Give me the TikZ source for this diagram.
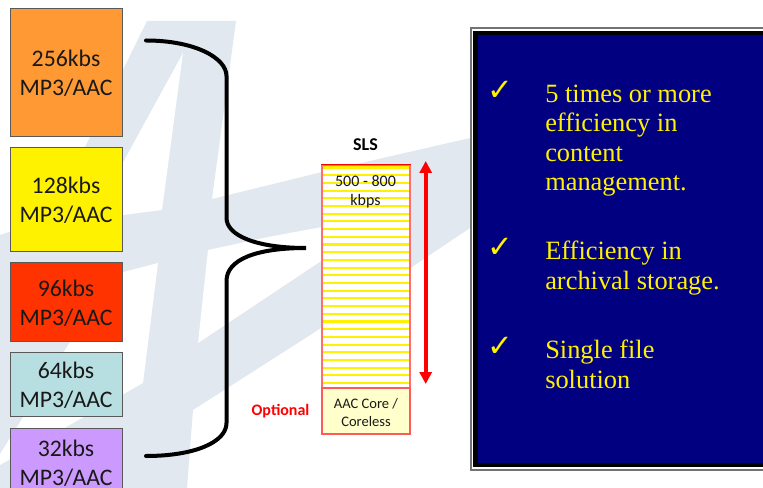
\documentclass[tikz,border=0pt]{standalone}
\usepackage{fontspec}
\setmainfont{Carlito}
\newfontfamily\panelfont{Liberation Serif}
\newfontfamily\tickfont{DejaVu Sans}
\usetikzlibrary{arrows.meta}
\definecolor{wmark}{HTML}{E2E8EF}
\definecolor{panelnavy}{HTML}{000080}
\newcommand{\ratestrut}{\rule{0pt}{14.5pt}}
\tikzset{
  ratebox/.style={draw=black!65,line width=0.6pt,minimum width=84pt,inner sep=0pt,align=center,
    font=\fontsize{17.8}{21.75}\selectfont,text=black!90},
  panelitem/.style={anchor=north west,inner sep=0pt,align=left,text=yellow,
    font=\panelfont\fontsize{19.8}{21.9}\selectfont},
  tick/.style={anchor=center,inner sep=0pt,text=yellow,font=\tickfont\fontsize{23}{23}\selectfont},
  smalllabel/.style={inner sep=0pt,align=center,text=black!90}
}
\begin{document}
\begin{tikzpicture}[x=0.75pt,y=-0.75pt]
\useasboundingbox (0,0) rectangle (763,488);
% watermark
\fill[wmark] (147,21) -- (236,21) -- (212,199) -- (322,172) -- (470,138) -- (470,228)
  -- (318,330) -- (193,410) -- (187,488) -- (0,488) -- (0,235) -- (50,218) -- cycle;
\fill[white] (183,53) -- (162,210) -- (92,219) -- cycle;
\fill[white] (112,275) -- (158,263) -- (143,383) -- (0,465) -- (0,454) -- cycle;
\fill[white] (208,250) -- (268,237) -- (322,227) -- (405,205) -- (198,343) -- cycle;
% rate boxes
\node[ratebox,fill={rgb,255:red,255;green,153;blue,51},minimum height=96pt] (r256) at (66,72) {\ratestrut 256kbs\\MP3/AAC};
\node[ratebox,fill=yellow,minimum height=78pt] (r128) at (66,199) {\ratestrut 128kbs\\MP3/AAC};
\node[ratebox,fill={rgb,255:red,255;green,51;blue,0},minimum height=59.25pt] (r96) at (66,301.5) {\ratestrut 96kbs\\MP3/AAC};
\node[ratebox,fill={rgb,255:red,183;green,222;blue,225},minimum height=48pt] (r64) at (66,384) {\ratestrut 64kbs\\MP3/AAC};
\node[ratebox,fill={rgb,255:red,204;green,153;blue,255},minimum height=51pt] (r32) at (66,462) {\ratestrut 32kbs\\MP3/AAC};
% brace
\coordinate (braceTop) at (146,40.5);
\coordinate (braceTip) at (306,248);
\coordinate (braceBot) at (146,456);
\draw[line width=3pt,black,line cap=round] (braceTop)
  .. controls (195,40.5) and (226.5,58) .. (226.5,76) -- (226.5,218)
  .. controls (226.5,235) and (255,248) .. (braceTip)
  .. controls (255,248) and (226.5,260) .. (226.5,281) -- (226.5,423)
  .. controls (226.5,442) and (195,456) .. (braceBot);
% SLS column
\node[font=\bfseries\fontsize{13.5}{16}\selectfont,inner sep=0pt,anchor=base,text=black] (slsTitle) at (365.5,150.5) {SLS};
\fill[white] (322,165) rectangle (410,388);
\foreach \n in {0,...,28} {
  \draw[yellow,line width=1.6pt] (322,167.5+7.7*\n) -- (410,167.5+7.7*\n);
}
\node[draw={rgb,255:red,255;green,110;blue,110},line width=1.1pt,minimum width=66pt,minimum height=167.25pt,inner sep=0pt] (slsBox) at (366,276.5) {};
\draw[red,line width=0.8pt] (slsBox.north west) -- (slsBox.north east);
\node[smalllabel,font=\fontsize{12}{14.25}\selectfont,anchor=north] (rateText) at (365.5,175) {500 - 800\\kbps};
\node[draw={rgb,255:red,255;green,90;blue,90},line width=1.1pt,fill={rgb,255:red,255;green,255;blue,204},minimum width=66pt,minimum height=34.5pt,inner sep=0pt,smalllabel,font=\fontsize{10.9}{13.5}\selectfont] (core) at (366,411) {\rule{0pt}{9.8pt}AAC Core /\\Coreless};
\node[font=\bfseries\fontsize{12}{14}\selectfont,text=red,inner sep=0pt,anchor=base] (optional) at (280.5,415) {Optional};
% red arrow
\coordinate (arrTop) at (425.7,161);
\coordinate (arrBot) at (425.7,384);
\draw[red,line width=2.8pt,{Triangle[length=9pt,width=9pt]}-{Triangle[length=9pt,width=9pt]}] (arrTop) -- (arrBot);
% panel
\fill[black!55] (470,27.5) rectangle (763,470.5);
\fill[white] (471.5,29.5) rectangle (763,469);
\fill[black] (473,31) rectangle (763,467);
\fill[panelnavy] (477.5,35.5) rectangle (763,463);
\node[tick] (t1) at (500.5,90.5) {✓};
\node[tick] (t2) at (500.5,248) {✓};
\node[tick] (t3) at (500.5,347) {✓};
\node[panelitem] (p1) at (545,85) {5 times or more\\efficiency in\\content\\management.};
\node[panelitem] (p2) at (545,241) {Efficiency in\\archival storage.};
\node[panelitem] (p3) at (545,340) {Single file\\solution};
\end{tikzpicture}
\end{document}
